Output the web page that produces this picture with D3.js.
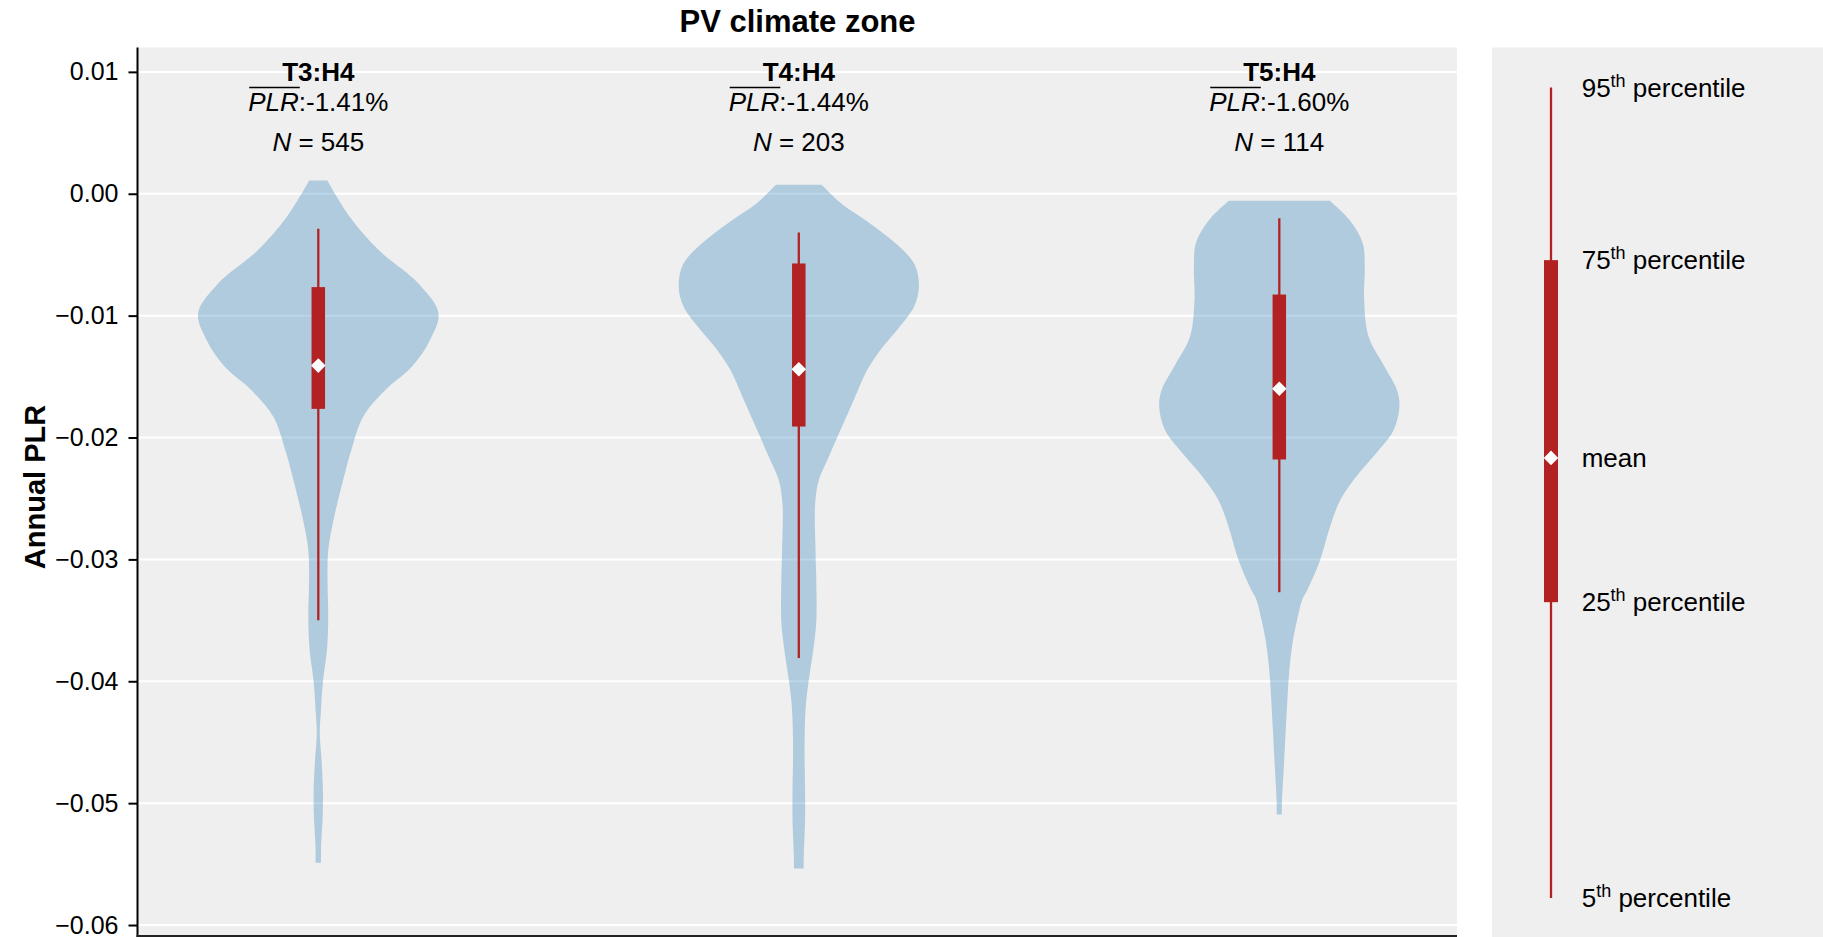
<!DOCTYPE html>
<html>
<head>
<meta charset="utf-8">
<script src="https://cdn.jsdelivr.net/npm/d3@7"></script>
<style>
  body { margin: 0; background: #fff; }
  text { font-family: "Liberation Sans", Arial, sans-serif; fill: #000; }
</style>
</head>
<body>
<svg id="chart" width="1823" height="937"></svg>
<script>
// climate zones, sample sizes and summary stats (annual PLR, fraction)
var zones = ["T3:H4", "T4:H4", "T5:H4"]
var counts = [545, 203, 114]
var p5 = [-0.0350, -0.0381, -0.0327]
var p25 = [-0.01765, -0.0191, -0.0218]
var means = [-0.0141, -0.0144, -0.0160]
var p75 = [-0.00766, -0.00572, -0.00827]
var p95 = [-0.00287, -0.00318, -0.0020]

var yTicks = [-0.06, -0.05, -0.04, -0.03, -0.02, -0.01, 0.00, 0.01]

// violin outlines: [PLR, relative density]
var densT3 = [[0.00109, 0.075], [-0.00186, 0.26], [-0.0046, 0.50], [-0.00733, 0.83], [-0.0098, 1.0],
  [-0.01199, 0.93], [-0.01418, 0.78], [-0.01609, 0.56], [-0.01828, 0.375], [-0.02102, 0.275],
  [-0.02375, 0.20], [-0.02649, 0.133], [-0.02923, 0.083], [-0.03196, 0.077], [-0.0347, 0.083],
  [-0.03744, 0.072], [-0.0400, 0.039], [-0.0424, 0.022], [-0.0443, 0.0125], [-0.0465, 0.0275],
  [-0.0492, 0.039], [-0.0514, 0.035], [-0.0536, 0.023], [-0.0549, 0.0225]]
var densT4 = [[0.00074, 0.19], [-0.00077, 0.35], [-0.00227, 0.57], [-0.00419, 0.82], [-0.00583, 0.965],
  [-0.00761, 1.0], [-0.00925, 0.96], [-0.01103, 0.83], [-0.01267, 0.69], [-0.01445, 0.57],
  [-0.01664, 0.47], [-0.0191, 0.36], [-0.02157, 0.25], [-0.02348, 0.167], [-0.0254, 0.136],
  [-0.02923, 0.139], [-0.03196, 0.146], [-0.03498, 0.146], [-0.03662, 0.131], [-0.03826, 0.108],
  [-0.0399, 0.083], [-0.04154, 0.0625], [-0.04319, 0.052], [-0.0459, 0.0475], [-0.04869, 0.052],
  [-0.0514, 0.052], [-0.0541, 0.042], [-0.05536, 0.04]]
var densT5 = [[-0.00057, 0.42], [-0.00213, 0.583], [-0.00405, 0.694], [-0.00597, 0.711], [-0.0087, 0.706],
  [-0.01172, 0.743], [-0.01418, 0.875], [-0.01609, 0.979], [-0.01746, 1.0], [-0.01938, 0.952],
  [-0.02129, 0.806], [-0.02321, 0.639], [-0.02512, 0.507], [-0.02731, 0.423], [-0.03005, 0.34],
  [-0.03251, 0.233], [-0.03333, 0.19], [-0.03498, 0.148], [-0.03662, 0.114], [-0.03826, 0.092],
  [-0.0399, 0.077], [-0.04154, 0.067], [-0.04425, 0.052], [-0.04704, 0.0375], [-0.04975, 0.0225],
  [-0.05093, 0.021]]
var densities = [densT3, densT4, densT5]

// legend key (schematic, 0 = 5th pct, 1 = 95th pct)
var keyNames = ["95", "75", "mean", "25", "5"]
var keyPos = [1.0, 0.787, 0.543, 0.365, 0.0]

var svg = d3.select('#chart')
var red = '#b22222'
var bg = '#efefef'

// note: "top" is reserved on window, so use plot* names
var plotLeft = 138, plotRight = 1457, plotTop = 47.5, plotBottom = 936

var y = d3.scaleLinear().domain([-0.0609, 0.012]).range([plotBottom, plotTop])
var x = d3.scalePoint().domain(zones).range([138.1, 1459.5]).padding(0.375)
var w = d3.scaleLinear().domain([0, 1]).range([0, x.step() * 0.25])

// panels
svg.append('rect').attr('x', plotLeft).attr('y', plotTop).attr('width', plotRight - plotLeft).attr('height', plotBottom - plotTop).attr('fill', bg)
svg.append('rect').attr('x', 1492).attr('y', plotTop).attr('width', 1823 - 1492).attr('height', 937 - plotTop).attr('fill', bg)

// grid
svg.append('g').selectAll('line').data(yTicks).join('line')
  .attr('x1', plotLeft).attr('x2', plotRight)
  .attr('y1', d => y(d)).attr('y2', d => y(d))
  .attr('stroke', '#fff').attr('stroke-width', 2)

// violins
var area = d3.area()
  .curve(d3.curveCatmullRom)
  .y(d => y(d[0]))

svg.append('g').selectAll('path').data(zones).join('path')
  .attr('d', (z, i) => area.x0(d => x(z) - w(d[1])).x1(d => x(z) + w(d[1]))(densities[i]))
  .attr('fill', '#1f77b4').attr('fill-opacity', 0.3)

// whiskers, boxes, means
var diamond = d3.symbol().type(d3.symbolDiamond2).size(135)
var stats = svg.append('g')
zones.forEach(function(z, i) {
  var cx = x(z)
  stats.append('line').attr('x1', cx).attr('x2', cx)
    .attr('y1', y(p95[i])).attr('y2', y(p5[i]))
    .attr('stroke', red).attr('stroke-width', 2.3)
  stats.append('rect').attr('x', cx - 6.75).attr('width', 13.5)
    .attr('y', y(p75[i])).attr('height', y(p25[i]) - y(p75[i]))
    .attr('fill', red)
  stats.append('path').attr('d', diamond())
    .attr('transform', 'translate(' + cx + ',' + y(means[i]) + ')')
    .attr('fill', '#fff')
})

// axis
var yAxis = d3.axisLeft(y).tickValues(yTicks).tickFormat(d3.format('.2f')).tickSize(9).tickPadding(10)
var ag = svg.append('g').attr('transform', 'translate(' + (plotLeft - 0.5) + ',0)').call(yAxis)
ag.select('.domain').remove()
ag.selectAll('.tick line').attr('stroke', '#000').attr('stroke-width', 2)
ag.selectAll('.tick text').attr('font-size', 25).attr('font-family', '"Liberation Sans", Arial, sans-serif').attr('fill', '#000')
svg.append('line').attr('x1', plotLeft - 0.5).attr('x2', plotLeft - 0.5).attr('y1', plotTop).attr('y2', 937).attr('stroke', '#000').attr('stroke-width', 2)
svg.append('line').attr('x1', plotLeft - 1.5).attr('x2', plotRight).attr('y1', 936).attr('y2', 936).attr('stroke', '#222').attr('stroke-width', 2)

// titles
svg.append('text').attr('x', (plotLeft + plotRight) / 2).attr('y', 32.3)
  .attr('text-anchor', 'middle').attr('font-size', 31).attr('font-weight', 'bold')
  .text('PV climate zone')
svg.append('text').attr('transform', 'translate(45,487) rotate(-90)')
  .attr('text-anchor', 'middle').attr('font-size', 29).attr('font-weight', 'bold')
  .text('Annual PLR')

// annotations per zone
zones.forEach(function(z, i) {
  var cx = x(z)
  svg.append('text').attr('x', cx).attr('y', 80.5).attr('text-anchor', 'middle')
    .attr('font-size', 26).attr('font-weight', 'bold').text(z)
  var t = svg.append('text').attr('x', cx).attr('y', 111).attr('text-anchor', 'middle').attr('font-size', 26)
  t.append('tspan').attr('font-style', 'italic').text('PLR')
  t.append('tspan').text(':' + (means[i] * 100).toFixed(2) + '%')
  var bb = t.node().getBBox()
  var len = t.node().getSubStringLength(0, 3)
  svg.append('line').attr('x1', bb.x + 1).attr('x2', bb.x + len + 1)
    .attr('y1', 87.5).attr('y2', 87.5).attr('stroke', '#000').attr('stroke-width', 1.5)
  var n = svg.append('text').attr('x', cx).attr('y', 150.7).attr('text-anchor', 'middle').attr('font-size', 26)
  n.append('tspan').attr('font-style', 'italic').text('N')
  n.append('tspan').text(' = ' + counts[i])
})

// legend
var ly = d3.scaleLinear().domain([0, 1]).range([898, 87.5])
var lx = 1551
var lg = svg.append('g')
lg.append('line').attr('x1', lx).attr('x2', lx).attr('y1', ly(keyPos[0])).attr('y2', ly(keyPos[4]))
  .attr('stroke', red).attr('stroke-width', 2.3)
lg.append('rect').attr('x', lx - 7).attr('width', 14)
  .attr('y', ly(keyPos[1])).attr('height', ly(keyPos[3]) - ly(keyPos[1])).attr('fill', red)
lg.append('path').attr('d', diamond())
  .attr('transform', 'translate(' + lx + ',' + ly(keyPos[2]) + ')').attr('fill', '#fff')

keyNames.forEach(function(k, i) {
  var t = lg.append('text').attr('x', 1581.7).attr('y', ly(keyPos[i]) + 9).attr('font-size', 26)
  if (k == 'mean') {
    t.text('mean')
  } else {
    t.append('tspan').text(k)
    t.append('tspan').attr('font-size', 18).attr('dy', -10).text('th')
    t.append('tspan').attr('dy', 10).text(' percentile')
  }
})
</script>
</body>
</html>
